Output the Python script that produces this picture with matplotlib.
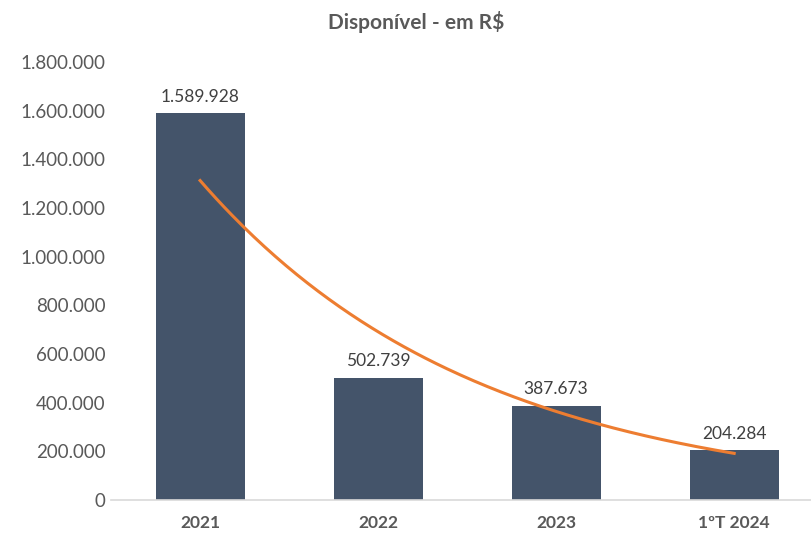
import numpy as np
import matplotlib.pyplot as plt

# DATA
categorias = ["2021", "2022", "2023", "1ºT 2024"]
valores = [1589928, 502739, 387673, 204284]
yticks = [0, 200000, 400000, 600000, 800000, 1000000, 1200000, 1400000, 1600000, 1800000]

plt.rcParams['font.family'] = ['Lato', 'DejaVu Sans']

def br(v):
    return "{:,.0f}".format(v).replace(",", ".")

# exponential trendline (Excel style) fitted on log values
x = np.arange(1, len(valores) + 1)
b, a = np.polyfit(x, np.log(valores), 1)
xt = np.linspace(1, len(valores), 200)
yt = np.exp(a + b * xt)

# PLOT
fig = plt.figure(figsize=(8.11, 5.34), dpi=100)
ax = fig.add_axes([0.137, 0.0637, 0.878, 0.820])
pos = np.arange(len(categorias))
ax.bar(pos, valores, width=0.5, color="#44546A", zorder=2)
ax.plot(xt - 1, yt, color="#ED7D31", lw=2.2, zorder=3)
for p, v in zip(pos, valores):
    ax.text(p, v + 35000, br(v), ha="center", va="bottom", fontsize=12.5, color="#404040")

ax.set_xlim(-0.5, 3.5)
ax.set_ylim(0, 1800000)
ax.set_yticks(yticks)
ax.set_yticklabels([br(t) for t in yticks], fontsize=13.5, color="#595959")
ax.set_xticks(pos)
ax.set_xticklabels(categorias, fontsize=12.5, fontweight="bold", color="#595959")
ax.tick_params(length=0)
ax.tick_params(axis="x", pad=11)
ax.tick_params(axis="y", pad=4)
for s in ["top", "right", "left"]:
    ax.spines[s].set_visible(False)
ax.spines["bottom"].set_color("#D9D9D9")
ax.spines["bottom"].set_linewidth(1.2)

fig.text(0.513, 0.958, "Disponível - em R$", ha="center", va="center",
         fontsize=15, fontweight="bold", color="#595959")

plt.savefig("out.png", dpi=100)
